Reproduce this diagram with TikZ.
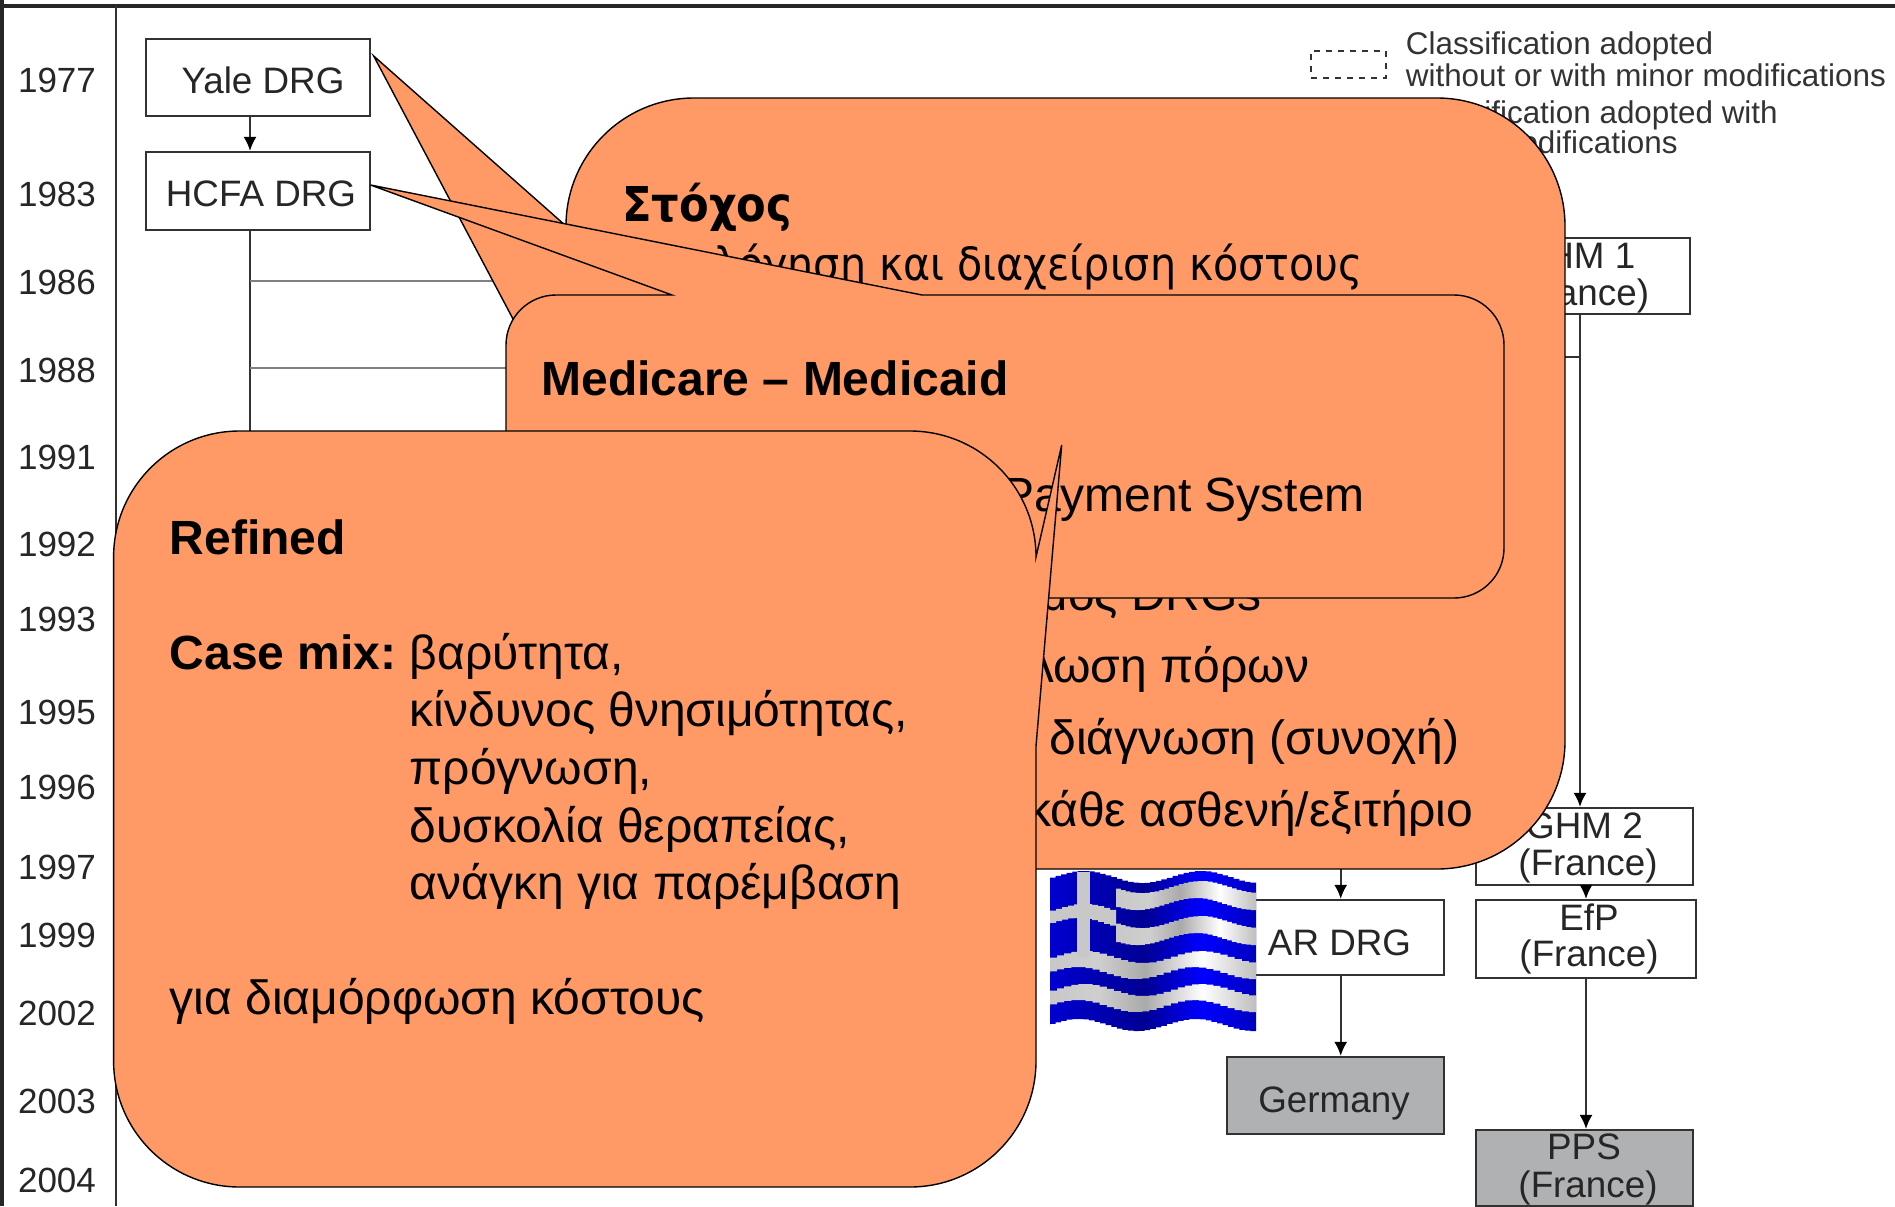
\documentclass[tikz,border=0pt]{standalone}
\usepackage{fontspec}
\setmainfont{Liberation Sans}
\newfontfamily\upperfont{DejaVu Sans Condensed}
\usetikzlibrary{arrows.meta}
\definecolor{calloutorange}{RGB}{255,153,102}
\definecolor{boxgray}{RGB}{176,177,179}
\definecolor{inkgray}{RGB}{50,50,50}
\pgfdeclarehorizontalshading{flagwhite}{100bp}{color(0bp)=(white!57!gray); color(25bp)=(white!57!gray); color(37bp)=(white!62!gray); color(48bp)=(white!33!gray); color(62bp)=(white); color(75bp)=(white!49!gray); color(100bp)=(white!49!gray)}
\pgfdeclarehorizontalshading{flagblue}{100bp}{color(0bp)=(blue!80!black); color(25bp)=(blue!82!black); color(48bp)=(blue!58!black); color(62bp)=(blue); color(75bp)=(blue!75!black); color(100bp)=(blue!75!black)}
\tikzset{
    drgbox/.style={draw=inkgray,line width=1.1pt,inner sep=0pt},
    drgfill/.style={drgbox,fill=boxgray},
    boxlabel/.style={inner sep=0pt,anchor=base,text=black!85,font=\fontsize{18.4}{19}\selectfont},
    yearlabel/.style={inner sep=0pt,text=black!85,font=\fontsize{17.5}{19}\selectfont},
    legendtext/.style={inner sep=0pt,text=black!80,font=\fontsize{15.7}{18}\selectfont},
    calloutshape/.style={draw=black,fill=calloutorange,line width=0.7pt},
    calltext/.style={inner sep=0pt,anchor=base west,font=\fontsize{24}{28}\selectfont},
    callright/.style={inner sep=0pt,anchor=base east,font=\fontsize{24}{28}\selectfont},
    upward/.style={draw=inkgray,line width=1pt,-{Latex[length=7pt,width=6.5pt,black]}},
    plainline/.style={draw=inkgray,line width=1pt},
    branch/.style={draw=black!50,line width=1.4pt}
}
\begin{document}
\begin{tikzpicture}[x=0.5pt,y=-0.5pt,declare function={flagy(\u,\d)=877+\d+6*cos(3.077*(\u-1140));}]
    \useasboundingbox (0,0) rectangle (1895,1206);
    \fill[white] (0,0) rectangle (1895,1206);

    % frame
    \draw[line width=2pt,black!85] (0,5.5) -- (1895,5.5);
    \draw[line width=2pt,black!85] (2,0) -- (2,1206);
    \draw[line width=0.9pt,inkgray] (116,5) -- (116,1206);

    % years
    \node[yearlabel] (y1977) at (57,80) {1977};
    \node[yearlabel] (y1983) at (57,194) {1983};
    \node[yearlabel] (y1986) at (57,282) {1986};
    \node[yearlabel] (y1988) at (57,370) {1988};
    \node[yearlabel] (y1991) at (57,457) {1991};
    \node[yearlabel] (y1992) at (57,544) {1992};
    \node[yearlabel] (y1993) at (57,619) {1993};
    \node[yearlabel] (y1995) at (57,712) {1995};
    \node[yearlabel] (y1996) at (57,787) {1996};
    \node[yearlabel] (y1997) at (57,867) {1997};
    \node[yearlabel] (y1999) at (57,935) {1999};
    \node[yearlabel] (y2002) at (57,1013) {2002};
    \node[yearlabel] (y2003) at (57,1101) {2003};
    \node[yearlabel] (y2004) at (57,1180) {2004};

    % boxes
    \node[drgbox,minimum width=112pt,minimum height=38.5pt] (yale) at (258,77.5) {};
    \node[drgbox,minimum width=112pt,minimum height=39pt] (hcfa) at (258,191) {};
    \node[drgbox,minimum width=110pt,minimum height=38pt] (ghmone) at (1580,276) {};
    \node[drgbox,minimum width=108.5pt,minimum height=38.5pt] (ghmtwo) at (1584.5,846.5) {};
    \node[drgbox,minimum width=109.75pt,minimum height=39pt] (efp) at (1586,939) {};
    \node[drgfill,minimum width=108.5pt,minimum height=38pt] (pps) at (1584.5,1168) {};
    \node[drgbox,minimum width=108.5pt,minimum height=37.5pt] (ardrg) at (1335.5,937.5) {};
    \node[drgfill,minimum width=108.5pt,minimum height=38.5pt] (germany) at (1335.5,1095.5) {};

    \node[boxlabel] (yaleText) at (263,93) {Yale DRG};
    \node[boxlabel] (hcfaText) at (261,206.4) {HCFA DRG};
    \node[boxlabel] (ghmoneText) at (1577,268.5) {GHM 1};
    \node[boxlabel] (ghmoneLand) at (1579.5,305.4) {(France)};
    \node[boxlabel] (ghmtwoText) at (1584.5,838) {GHM 2};
    \node[boxlabel] (ghmtwoLand) at (1588,875.4) {(France)};
    \node[boxlabel] (efpText) at (1589,930.4) {EfP};
    \node[boxlabel] (efpLand) at (1589,966.4) {(France)};
    \node[boxlabel] (ppsText) at (1584,1159.2) {PPS};
    \node[boxlabel] (ppsLand) at (1588,1197.4) {(France)};
    \node[boxlabel] (ardrgText) at (1339.5,955.1) {AR DRG};
    \node[boxlabel] (germanyText) at (1334,1112.2) {Germany};

    % connectors
    \coordinate (trunk) at (250,440);
    \coordinate (branchA) at (600,281);
    \coordinate (branchB) at (600,368);
    \coordinate (arin) at (1340.7,860);
    \coordinate (ghmbranch) at (1500,357);
    \draw[upward] (trunk |- yale.south) -- (trunk |- hcfa.north);
    \draw[plainline] (trunk |- hcfa.south) -- (trunk);
    \draw[branch] (trunk |- branchA) -- (branchA);
    \draw[branch] (trunk |- branchB) -- (branchB);
    \draw[upward] (arin) -- (arin |- ardrg.north);
    \draw[upward] (arin |- ardrg.south) -- (arin |- germany.north);
    \draw[upward] (ghmone.south) -- (ghmone.south |- ghmtwo.north);
    \draw[plainline] (ghmbranch) -- (ghmbranch -| ghmone.south);
    \draw[upward] (efp.north |- ghmtwo.south) -- (efp.north);
    \draw[upward] (efp.south) -- (efp.south |- pps.north);

    % legend
    \node[draw=inkgray,dashed,line width=1pt,minimum width=37.5pt,minimum height=13.5pt,inner sep=0pt] (legendbox) at (1348.5,64.5) {};
    \node[legendtext,anchor=base west] (legendA) at (1405.5,54.2) {Classification adopted};
    \node[legendtext,anchor=base west] (legendB) at (1405.5,86.2) {without or with minor modifications};
    \node[legendtext,anchor=base west] (legendC) at (1405.5,123.5) {Classification adopted with};
    \node[legendtext,anchor=base east] (legendD) at (1678,153.5) {modifications};

    % first callout
    \draw[calloutshape] (566,226) [rounded corners=64pt] -- (566,98) -- (1565,98) -- (1565,869) -- (566,869) [sharp corners] -- (566,419) -- (373.7,56) -- cycle;
    \node[calltext,font=\upperfont\fontsize{24}{28}\selectfont\bfseries] (goal) at (622,221.7) {Στόχος};
    \node[callright,font=\upperfont\fontsize{22.9}{28}\selectfont] (goalA) at (1363.5,280) {λόγηση και διαχείριση κόστους};
    \node[callright] (goalB) at (1262.4,610.7) {αριθμός DRGs};
    \node[callright] (goalC) at (1309.5,682.7) {κατανάλωση πόρων};
    \node[callright] (goalD) at (1459.4,754) {διάγνωση (συνοχή)};
    \node[callright] (goalE) at (1473.4,826.7) {κάθε ασθενή/εξιτήριο};

    % second callout
    \draw[calloutshape] (672,295) [rounded corners=25pt] -- (506,295) -- (506,598) -- (1504,598) -- (1504,295) [sharp corners] -- (922,295) -- (370.5,185) -- cycle;
    \node[calltext,font=\fontsize{24}{28}\selectfont\bfseries] (medicare) at (541.2,395) {Medicare – Medicaid};
    \node[callright] (payment) at (1365.4,511.7) {Payment System};

    % third callout
    \draw[calloutshape] (1036,557) [rounded corners=63pt] -- (1036,431) -- (113.6,431) -- (113.6,1187) -- (1036,1187) [sharp corners] -- (1036,746) -- (1061.7,445) -- cycle;
    \node[calltext,font=\fontsize{24}{28}\selectfont\bfseries] (refined) at (169.4,554.4) {Refined};
    \node[calltext,font=\fontsize{24}{28}\selectfont\bfseries] (casemix) at (169.4,669.4) {Case mix:};
    \node[calltext] (mixA) at (409.4,669.4) {βαρύτητα,};
    \node[calltext] (mixB) at (409.4,726.5) {κίνδυνος θνησιμότητας,};
    \node[calltext] (mixC) at (409.4,784) {πρόγνωση,};
    \node[calltext] (mixD) at (409.4,842) {δυσκολία θεραπείας,};
    \node[calltext] (mixE) at (409.4,899) {ανάγκη για παρέμβαση};
    \node[calltext] (cost) at (169.4,1014) {για διαμόρφωση κόστους};

    % flag
    \shade[shading=flagblue] plot[const plot,domain=1050:1256,samples=38] (\x,{flagy(\x,0)}) -- plot[const plot,domain=1256:1050,samples=38] (\x,{flagy(\x,148)}) -- cycle;
    \foreach \fa/\fb/\fs in {10/27/1116,45/62/1116,80/96/1050,113/129/1050}
        \shade[shading=flagwhite] plot[const plot,domain=\fs:1256,samples=30] (\x,{flagy(\x,\fa)}) -- plot[const plot,domain=1256:\fs,samples=30] (\x,{flagy(\x,\fb)}) -- cycle;
    \fill[white!57!gray] plot[const plot,domain=1050:1116,samples=12] (\x,{flagy(\x,33)}) -- plot[const plot,domain=1116:1050,samples=12] (\x,{flagy(\x,47)}) -- cycle;
    \fill[white!57!gray] (1077,872) rectangle (1090,958);
\end{tikzpicture}
\end{document}
